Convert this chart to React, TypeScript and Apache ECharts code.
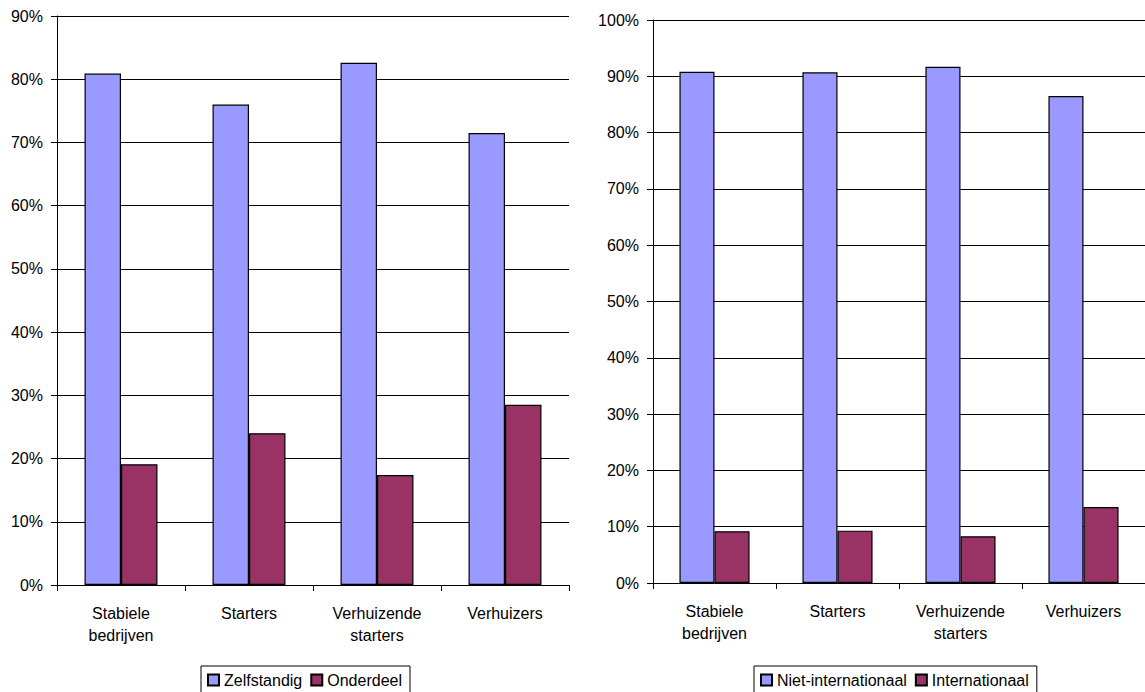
import React, { useEffect, useRef } from "react";
import * as echarts from "echarts";

const categories = ["Stabiele\nbedrijven", "Starters", "Verhuizende\nstarters", "Verhuizers"];
const zelfstandig = [80.9, 76.0, 82.6, 71.5];
const onderdeel = [19.1, 24.0, 17.4, 28.5];
const nietInternationaal = [90.8, 90.7, 91.7, 86.5];
const internationaal = [9.2, 9.3, 8.3, 13.5];
const leftLegend = ["Zelfstandig", "Onderdeel"];
const rightLegend = ["Niet-internationaal", "Internationaal"];

const FONT = "'Liberation Sans', Arial, sans-serif";
const BLUE = "#9999FF";
const RED = "#993366";

export default function App() {
  const ref = useRef<HTMLDivElement>(null);
  useEffect(() => {
    if (!ref.current) return;
    const chart = echarts.init(ref.current, null, { renderer: "svg" });
    const textStyle = { fontFamily: FONT, fontSize: 16, color: "#000" };
    const yAxisBase = (max: number, gridIndex: number) => ({
      type: "value",
      gridIndex,
      min: 0,
      max,
      interval: 10,
      axisLine: { show: true, lineStyle: { color: "#000", width: 1 } },
      axisTick: { show: true, length: 6, lineStyle: { color: "#000" } },
      axisLabel: { ...textStyle, margin: 14, formatter: "{value}%" },
      splitLine: { show: true, lineStyle: { color: "#000", width: 1 } },
    });
    const xAxisBase = (gridIndex: number) => ({
      type: "category",
      gridIndex,
      data: categories,
      axisLine: { show: true, lineStyle: { color: "#000", width: 1 } },
      axisTick: { show: true, length: 6, alignWithLabel: false, lineStyle: { color: "#000" } },
      axisLabel: { ...textStyle, margin: 17, lineHeight: 22, interval: 0 },
    });
    const barStyle = (color: string) => ({ color, borderColor: "#000", borderWidth: 1.2 });
    const legendBase = {
      orient: "horizontal",
      top: 666,
      itemWidth: 11,
      itemHeight: 11,
      itemGap: 8,
      icon: "rect",
      borderColor: "#000",
      borderWidth: 1,
      padding: [6, 8, 12, 6],
      textStyle: { ...textStyle },
    };
    chart.setOption({
      animation: false,
      backgroundColor: "#fff",
      textStyle: { fontFamily: FONT },
      grid: [
        { left: 57, top: 16, width: 512, height: 569 },
        { left: 653, top: 20, width: 498, height: 563 },
      ],
      xAxis: [xAxisBase(0), xAxisBase(1)],
      yAxis: [yAxisBase(90, 0), yAxisBase(100, 1)],
      legend: [
        { ...legendBase, left: 201, data: leftLegend },
        { ...legendBase, left: 754, data: rightLegend },
      ],
      series: [
        { name: leftLegend[0], type: "bar", xAxisIndex: 0, yAxisIndex: 0, data: zelfstandig, barGap: "0%", barCategoryGap: "43%", itemStyle: barStyle(BLUE) },
        { name: leftLegend[1], type: "bar", xAxisIndex: 0, yAxisIndex: 0, data: onderdeel, barGap: "0%", barCategoryGap: "43%", itemStyle: barStyle(RED) },
        { name: rightLegend[0], type: "bar", xAxisIndex: 1, yAxisIndex: 1, data: nietInternationaal, barGap: "0%", barCategoryGap: "43%", itemStyle: barStyle(BLUE) },
        { name: rightLegend[1], type: "bar", xAxisIndex: 1, yAxisIndex: 1, data: internationaal, barGap: "0%", barCategoryGap: "43%", itemStyle: barStyle(RED) },
      ],
    });
    return () => chart.dispose();
  }, []);
  return (
    <div
      ref={ref}
      style={{ position: "fixed", left: 0, top: 0, width: 1145, height: 692, background: "#fff" }}
    />
  );
}
